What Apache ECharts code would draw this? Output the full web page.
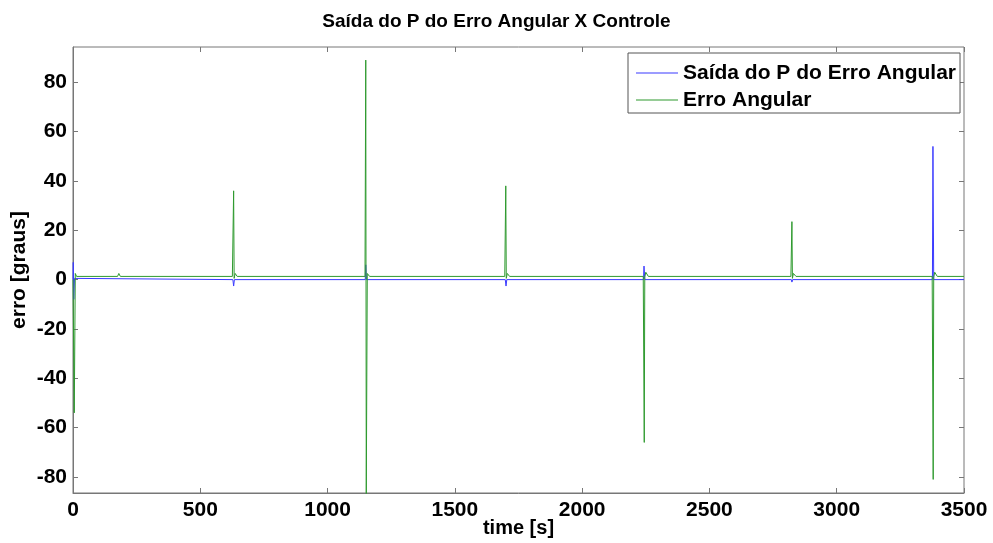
<!DOCTYPE html>
<html>
<head>
<meta charset="utf-8">
<script src="https://cdn.jsdelivr.net/npm/echarts@6/dist/echarts.min.js"></script>
<style>
  html, body { margin: 0; padding: 0; background: #fff; }
  #chart { width: 993px; height: 543px; }
</style>
</head>
<body>
<div id="chart"></div>
<script>
// tick labels
const xTicks = [0, 500, 1000, 1500, 2000, 2500, 3000, 3500]
const yTicks = [-80, -60, -40, -20, 0, 20, 40, 60, 80]

// Saída do P do Erro Angular (blue)
const saidaT = [0, 1, 3, 6, 12, 628, 631, 634, 1148, 1150, 1153, 1698, 1701, 1704, 2241, 2243, 2246, 2822, 2824, 2827, 3376, 3378, 3381, 3500]
const saidaV = [0, 7, -8, 0.5, 0, 0, -2.6, 0, 0, 6, 0, 0, -2.6, 0, 0, 5.5, 0, 0, -1, 0, 0, 54, 0, 0]

// Erro Angular (green)
const erroT = [0, 2, 5, 9, 14, 175, 180, 186, 626, 631, 633, 637, 645, 1147, 1150, 1152, 1156, 1165, 1696, 1700, 1702, 1706, 1715, 2240, 2244, 2246, 2250, 2260, 2820, 2824, 2826, 2830, 2840, 3375, 3379, 3381, 3385, 3395, 3500]
const erroV = [0, -20, -54, 2.5, 1.3, 1.3, 2.5, 1.3, 1.3, 36, 0.5, 2.5, 1.3, 1.3, 89, -87, 2.5, 1.3, 1.3, 38, 0.5, 2.5, 1.3, 1.3, -66, 1, 3, 1.3, 1.3, 23.5, 0.5, 2.5, 1.3, 1.3, -81, 1, 3, 1.3, 1.3]

const pairs = (t, v) => t.map((x, i) => [x, v[i]])

const font = 'Liberation Sans'
const chart = echarts.init(document.getElementById('chart'))

const tickStyle = { show: true, inside: true, length: 5, lineStyle: { color: '#777' } }

chart.setOption({
  backgroundColor: '#fff',
  animation: false,
  title: {
    text: 'Saída do P do Erro Angular X Controle',
    left: 'center',
    top: 7,
    textStyle: { fontFamily: font, fontWeight: 'bold', fontSize: 19, color: '#000' }
  },
  grid: {
    left: 73, right: 29, top: 47, bottom: 50,
    containLabel: false,
    outerBoundsMode: 'none',
    show: true, borderColor: '#777', borderWidth: 1
  },
  legend: {
    orient: 'vertical',
    left: 628,
    top: 53,
    icon: 'rect',
    itemWidth: 42,
    itemHeight: 1,
    itemGap: 5,
    padding: [9, 4, 2, 8],
    borderColor: '#555',
    borderWidth: 1,
    backgroundColor: '#fff',
    textStyle: { fontFamily: font, fontWeight: 'bold', fontSize: 21, lineHeight: 22, color: '#000' },
    data: ['Saída do P do Erro Angular', 'Erro Angular']
  },
  xAxis: [{
    type: 'value',
    min: 0, max: 3500, interval: 500,
    name: 'time [s]',
    nameLocation: 'middle',
    nameGap: 25,
    nameMoveOverlap: false,
    nameTextStyle: { fontFamily: font, fontWeight: 'bold', fontSize: 20, color: '#000' },
    axisLine: { show: true, onZero: false, lineStyle: { color: '#777' } },
    axisTick: tickStyle,
    axisLabel: { fontFamily: font, fontWeight: 'bold', fontSize: 21, color: '#000', margin: 7, formatter: v => String(v) },
    splitLine: { show: false }
  }, {
    type: 'value', position: 'top',
    min: 0, max: 3500, interval: 500,
    axisLine: { show: false, onZero: false },
    axisTick: tickStyle,
    axisLabel: { show: false },
    splitLine: { show: false }
  }],
  yAxis: [{
    type: 'value',
    min: -86.5, max: 94.3,
    name: 'erro [graus]',
    nameLocation: 'middle',
    nameGap: 43,
    nameMoveOverlap: false,
    nameTextStyle: { fontFamily: font, fontWeight: 'bold', fontSize: 21, color: '#000' },
    axisLine: { show: true, onZero: false, lineStyle: { color: '#777' } },
    axisTick: Object.assign({ customValues: yTicks }, tickStyle),
    axisLabel: { customValues: yTicks, fontFamily: font, fontWeight: 'bold', fontSize: 21, color: '#000', margin: 6 },
    splitLine: { show: false }
  }, {
    type: 'value', position: 'right',
    min: -86.5, max: 94.3,
    axisLine: { show: false, onZero: false },
    axisTick: Object.assign({ customValues: yTicks }, tickStyle),
    axisLabel: { show: false },
    splitLine: { show: false }
  }],
  series: [{
    name: 'Saída do P do Erro Angular',
    type: 'line',
    symbol: 'none',
    color: '#3a3aff',
    lineStyle: { width: 1 },
    data: pairs(saidaT, saidaV)
  }, {
    name: 'Erro Angular',
    type: 'line',
    symbol: 'none',
    color: '#2f9a2f',
    lineStyle: { width: 1 },
    data: pairs(erroT, erroV)
  }]
})
</script>
</body>
</html>
